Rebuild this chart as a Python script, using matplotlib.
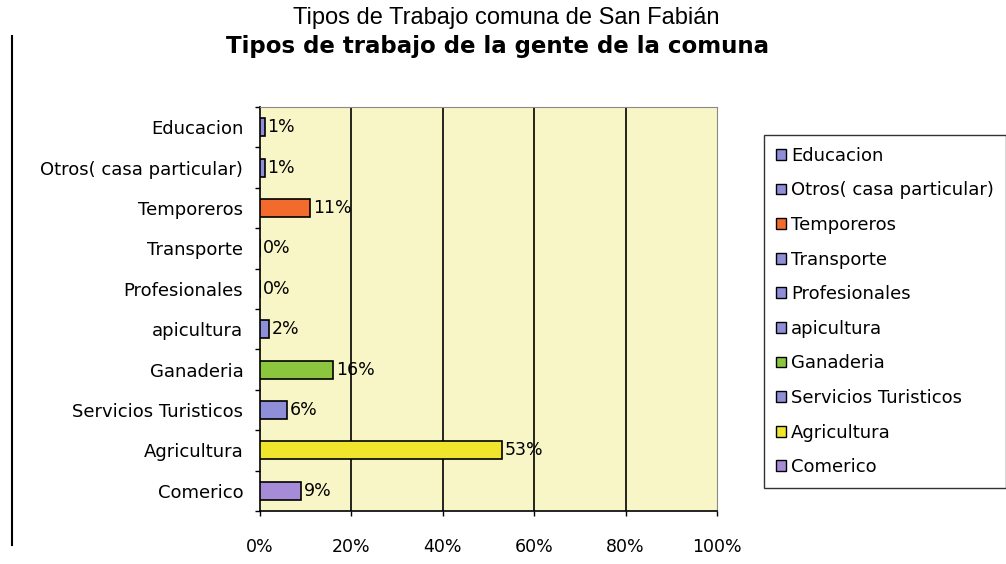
import numpy as np
import matplotlib
matplotlib.use("Agg")
import matplotlib.pyplot as plt
from matplotlib.patches import Patch
from matplotlib.lines import Line2D

# categories from bottom to top, as the chart draws them
categories = ["Comerico", "Agricultura", "Servicios Turisticos", "Ganaderia",
              "apicultura", "Profesionales", "Transporte", "Temporeros",
              "Otros( casa particular)", "Educacion"]
values = [9, 53, 6, 16, 2, 0, 0, 11, 1, 1]
x_ticks = [0, 20, 40, 60, 80, 100]

title = "Tipos de Trabajo comuna de San Fabián"
subtitle = "Tipos de trabajo de la gente de la comuna"

blue = "#8f8fd9"
colors = ["#a68cd6", "#efe52c", blue, "#8cc63f", blue, blue, blue,
          "#f26a2c", blue, blue]

plt.rcParams["font.family"] = ["DejaVu Sans"]

fig = plt.figure(figsize=(10.06, 5.64), dpi=100)
ax = fig.add_axes([260 / 1006, 53 / 564, 457 / 1006, 404 / 564])
ax.set_facecolor("#f8f5c6")

y = np.arange(len(categories))
bars = ax.barh(y, values, height=0.45, color=colors, edgecolor="black",
               linewidth=1.2, zorder=3)
for b, v in zip(bars, values):
    ax.annotate("%d%%" % v, (b.get_width(), b.get_y() + b.get_height() / 2),
                xytext=(2, 0), textcoords="offset points",
                ha="left", va="center", fontsize=12.5, zorder=4)

ax.set_xlim(0, 100)
ax.set_ylim(-0.5, len(categories) - 0.5)
ax.set_xticks(x_ticks)
ax.set_xticklabels(["%d%%" % t for t in x_ticks], fontsize=12.5)
ax.set_yticks(y)
ax.set_yticklabels(categories, fontsize=13)
ax.set_yticks(np.arange(len(categories) + 1) - 0.5, minor=True)
ax.tick_params(axis="y", which="major", length=0, pad=12)
ax.tick_params(axis="y", which="minor", length=3.6, width=1, direction="out")
ax.tick_params(axis="x", length=3.6, width=1, pad=16)

for t in x_ticks[1:-1]:
    ax.axvline(t, color="black", linewidth=1.2, zorder=2)

ax.spines["left"].set_color("black")
ax.spines["bottom"].set_color("black")
ax.spines["left"].set_linewidth(1.2)
ax.spines["bottom"].set_linewidth(1.2)
ax.spines["top"].set_color("#8a8a8a")
ax.spines["right"].set_color("#8a8a8a")

# legend follows the order top to bottom
handles = [Patch(facecolor=c, edgecolor="black", linewidth=1)
           for c in colors[::-1]]
leg = fig.legend(handles, categories[::-1], loc="upper left",
                 bbox_to_anchor=(764 / 1006, 1 - 135 / 564),
                 frameon=True, fancybox=False, fontsize=13,
                 handlelength=0.55, handleheight=0.55, handletextpad=0.3,
                 labelspacing=0.92, borderpad=0.65, borderaxespad=0)
leg.get_frame().set_edgecolor("black")
leg.get_frame().set_linewidth(1)

fig.text(506 / 1006, 1 - 18 / 564, title, ha="center", va="center",
         fontsize=17, family=["Liberation Sans Narrow", "Liberation Sans"])
fig.text(497 / 1006, 1 - 46 / 564, subtitle, ha="center", va="center",
         fontsize=16.5, fontweight="bold")

fig.add_artist(Line2D([12 / 1006, 12 / 1006], [1 - 36 / 564, 1 - 545 / 564],
                      color="black", linewidth=1.5))

fig.savefig("out.png", dpi=100)
